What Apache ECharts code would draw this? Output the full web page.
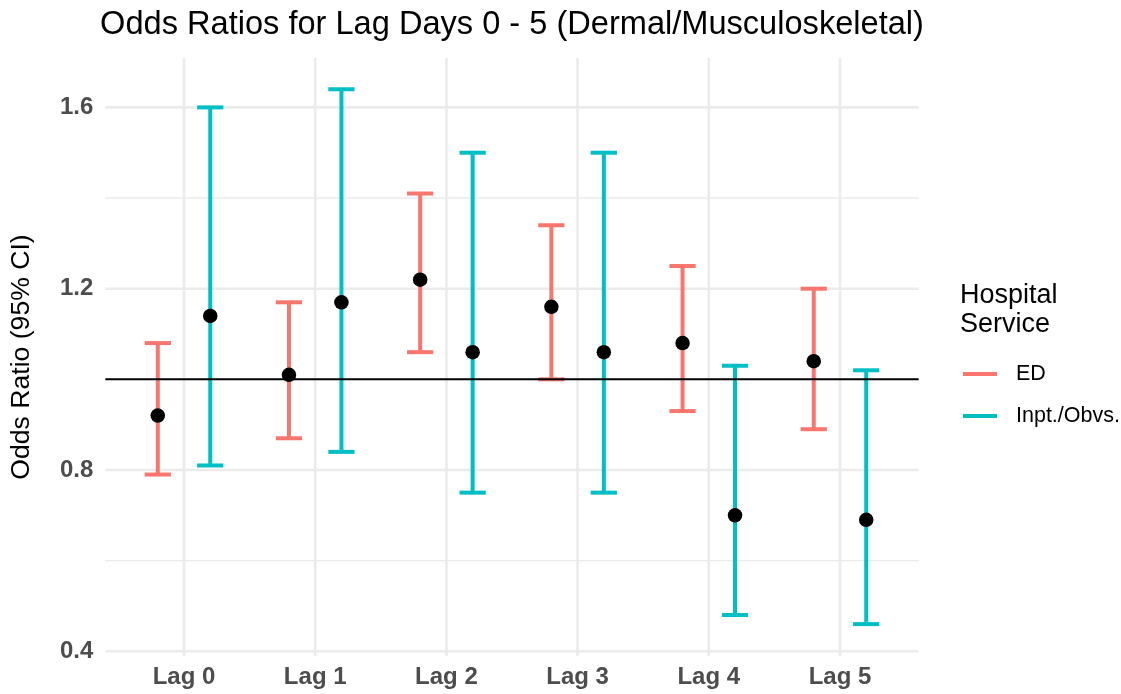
<!DOCTYPE html>
<html>
<head>
<meta charset="utf-8">
<script src="https://cdn.jsdelivr.net/npm/echarts@6/dist/echarts.min.js"></script>
<style>
  html, body { margin: 0; padding: 0; background: #fff; }
  #chart { width: 1121px; height: 694px; }
</style>
</head>
<body>
<div id="chart"></div>
<script>
// Odds ratios with 95% confidence intervals, by lag day and hospital service
const categories = ['Lag 0', 'Lag 1', 'Lag 2', 'Lag 3', 'Lag 4', 'Lag 5'];

const edEstimate = [0.92, 1.01, 1.22, 1.16, 1.08, 1.04];
const edLower    = [0.79, 0.87, 1.06, 1.00, 0.93, 0.89];
const edUpper    = [1.08, 1.17, 1.41, 1.34, 1.25, 1.20];

const inptEstimate = [1.14, 1.17, 1.06, 1.06, 0.70, 0.69];
const inptLower    = [0.81, 0.84, 0.75, 0.75, 0.48, 0.46];
const inptUpper    = [1.60, 1.64, 1.50, 1.50, 1.03, 1.02];

const yMajorTicks = [0.4, 0.8, 1.2, 1.6];
const yMinorTicks = [0.6, 1.0, 1.4];
const referenceValue = 1;

const seriesNames = ['ED', 'Inpt./Obvs.'];
const seriesColors = ['#F8766D', '#00BFC4'];

// Layout constants (discrete axis positions 1..n, dodged groups)
const X_MIN = 0.4, X_MAX = categories.length + 0.6;
const Y_MIN = 0.3896, Y_MAX = 1.709;
const DODGE = 0.2;      // half the dodge width
const CAP_HALF = 0.1;   // half the error-bar cap width
const FONT = '"Liberation Sans", Arial, sans-serif';

function groupRows(lower, upper, offset) {
  return categories.map((c, i) => [i + 1 + offset, lower[i], upper[i]]);
}
function pointRows(est, offset) {
  return categories.map((c, i) => [i + 1 + offset, est[i]]);
}

function errorBarRenderer(color) {
  return function (params, api) {
    const x = api.value(0);
    const top = api.coord([x, api.value(2)]);
    const bot = api.coord([x, api.value(1)]);
    const half = api.size([CAP_HALF, 0])[0];
    const style = { stroke: color, lineWidth: 4, lineCap: 'butt' };
    return {
      type: 'group',
      children: [
        { type: 'line', shape: { x1: top[0], y1: top[1], x2: bot[0], y2: bot[1] }, style },
        { type: 'line', shape: { x1: top[0] - half, y1: top[1], x2: top[0] + half, y2: top[1] }, style },
        { type: 'line', shape: { x1: bot[0] - half, y1: bot[1], x2: bot[0] + half, y2: bot[1] }, style }
      ]
    };
  };
}

function hLineRenderer(color, width) {
  return function (params, api) {
    const cs = params.coordSys;
    const y = api.coord([api.value(0), api.value(1)])[1];
    return {
      type: 'line',
      shape: { x1: cs.x, y1: y, x2: cs.x + cs.width, y2: y },
      style: { stroke: color, lineWidth: width }
    };
  };
}

function vLineRenderer(color, width) {
  return function (params, api) {
    const cs = params.coordSys;
    const x = api.coord([api.value(0), api.value(1)])[0];
    return {
      type: 'line',
      shape: { x1: x, y1: cs.y, x2: x, y2: cs.y + cs.height },
      style: { stroke: color, lineWidth: width }
    };
  };
}

const chart = echarts.init(document.getElementById('chart'), null, { renderer: 'canvas' });

chart.setOption({
  backgroundColor: '#ffffff',
  animation: false,
  title: {
    text: 'Odds Ratios for Lag Days 0 - 5 (Dermal/Musculoskeletal)',
    left: 507,
    top: 4,
    textAlign: 'center',
    textStyle: { fontFamily: FONT, fontSize: 32.6, fontWeight: 'normal', color: '#000000' }
  },
  grid: {
    left: 105.3, right: 202.3, top: 58, bottom: 38,
    containLabel: false, outerBoundsMode: 'none'
  },
  legend: {
    data: seriesNames.map(n => ({ name: n, icon: 'rect' })),
    orient: 'vertical',
    left: 958,
    top: 358,
    itemWidth: 34,
    itemHeight: 4,
    itemGap: 20,
    selectedMode: false,
    textStyle: {
      fontFamily: FONT, fontSize: 21.5, color: '#000000',
      lineHeight: 22, padding: [0, 0, 0, 14]
    }
  },
  graphic: [{
    type: 'text',
    left: 960,
    top: 281,
    style: {
      text: 'Hospital\nService',
      fontFamily: FONT, fontSize: 27, lineHeight: 29, fill: '#000000'
    }
  }],
  xAxis: {
    type: 'value',
    min: X_MIN,
    max: X_MAX,
    axisLine: { show: false },
    axisTick: { show: false },
    splitLine: { show: false },
    axisLabel: {
      customValues: categories.map((c, i) => i + 1),
      formatter: v => categories[Math.round(v) - 1] || '',
      margin: 9,
      fontFamily: FONT, fontSize: 24, fontWeight: 'bold', color: '#4D4D4D'
    }
  },
  yAxis: {
    type: 'value',
    min: Y_MIN,
    max: Y_MAX,
    name: 'Odds Ratio (95% CI)',
    nameLocation: 'middle',
    nameGap: 70,
    nameRotate: 90,
    nameTextStyle: { fontFamily: FONT, fontSize: 26.6, color: '#000000' },
    axisLine: { show: false },
    axisTick: { show: false },
    splitLine: { show: false },
    axisLabel: {
      customValues: yMajorTicks,
      formatter: v => v.toFixed(1),
      margin: 12,
      fontFamily: FONT, fontSize: 24, fontWeight: 'bold', color: '#4D4D4D'
    }
  },
  series: [
    {
      type: 'custom', name: 'minorGrid', silent: true, z: 0,
      renderItem: hLineRenderer('#EBEBEB', 1.4),
      data: yMinorTicks.map(v => [1, v])
    },
    {
      type: 'custom', name: 'majorGrid', silent: true, z: 0,
      renderItem: hLineRenderer('#EBEBEB', 2.6),
      data: yMajorTicks.map(v => [1, v])
    },
    {
      type: 'custom', name: 'categoryGrid', silent: true, z: 0,
      renderItem: vLineRenderer('#EBEBEB', 2.6),
      data: categories.map((c, i) => [i + 1, 1])
    },
    {
      type: 'custom', name: seriesNames[0], z: 2,
      itemStyle: { color: seriesColors[0] },
      renderItem: errorBarRenderer(seriesColors[0]),
      encode: { x: 0, y: [1, 2] },
      data: groupRows(edLower, edUpper, -DODGE)
    },
    {
      type: 'custom', name: seriesNames[1], z: 2,
      itemStyle: { color: seriesColors[1] },
      renderItem: errorBarRenderer(seriesColors[1]),
      encode: { x: 0, y: [1, 2] },
      data: groupRows(inptLower, inptUpper, DODGE)
    },
    {
      type: 'custom', name: 'reference', silent: true, z: 3,
      renderItem: hLineRenderer('#000000', 2),
      data: [[1, referenceValue]]
    },
    {
      type: 'scatter', name: 'edPoints', z: 4, silent: true,
      symbol: 'circle', symbolSize: 14.5,
      itemStyle: { color: '#000000', opacity: 1 },
      data: pointRows(edEstimate, -DODGE)
    },
    {
      type: 'scatter', name: 'inptPoints', z: 4, silent: true,
      symbol: 'circle', symbolSize: 14.5,
      itemStyle: { color: '#000000', opacity: 1 },
      data: pointRows(inptEstimate, DODGE)
    }
  ]
});
</script>
</body>
</html>
